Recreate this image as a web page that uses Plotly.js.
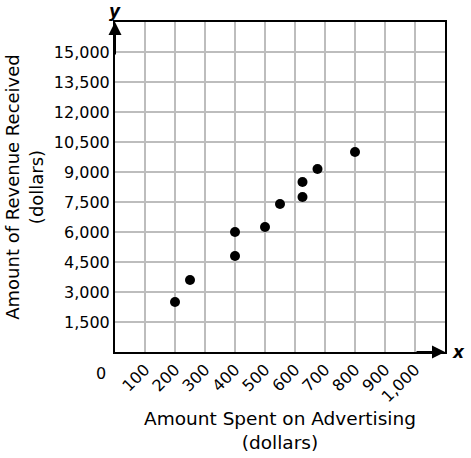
<!DOCTYPE html>
<html><head><meta charset="utf-8">
<script src="https://cdn.plot.ly/plotly-3.0.1.min.js"></script>
<style>body{margin:0;background:#fff}#c{width:471px;height:458px}</style>
</head><body><div id="c"></div>
<script>
var advertising = [200, 250, 400, 400, 500, 550, 625, 625, 675, 800];
var revenue = [2500, 3600, 4800, 6000, 6250, 7400, 7750, 8500, 9150, 10000];
var xTickVals = [100, 200, 300, 400, 500, 600, 700, 800, 900, 1000];
var xTickText = ['100', '200', '300', '400', '500', '600', '700', '800', '900', '1,000'];
var yTickVals = [1500, 3000, 4500, 6000, 7500, 9000, 10500, 12000, 13500, 15000];
var yTickText = ['1,500', '3,000', '4,500', '6,000', '7,500', '9,000', '10,500', '12,000', '13,500', '15,000'];

var font = 'DejaVu Sans, Verdana, sans-serif';
var trace = {
  x: advertising, y: revenue, mode: 'markers', type: 'scatter',
  marker: {color: '#000', size: 10}, hoverinfo: 'skip'
};
var layout = {
  width: 471, height: 458,
  margin: {l: 115, r: 26, t: 22, b: 106},
  paper_bgcolor: '#fff', plot_bgcolor: '#fff',
  showlegend: false,
  font: {family: font, color: '#000', size: 16},
  xaxis: {
    range: [0, 1100], tickvals: xTickVals, ticktext: xTickText, tickangle: -45,
    showgrid: true, gridcolor: '#bdbdbd', gridwidth: 1.5, zeroline: false,
    showline: true, linecolor: '#000', linewidth: 2, mirror: true, ticks: '',
    tickfont: {size: 16, family: font}, automargin: false,
    title: {text: 'Amount Spent on Advertising<br>(dollars)', font: {size: 18.5, family: font}, standoff: 7}
  },
  yaxis: {
    range: [0, 16500], tickvals: yTickVals, ticktext: yTickText,
    showgrid: true, gridcolor: '#bdbdbd', gridwidth: 1.5, zeroline: false,
    showline: true, linecolor: '#000', linewidth: 2, mirror: true, ticks: '',
    tickfont: {size: 16, family: font}, automargin: false,
    title: {text: 'Amount of Revenue Received<br>(dollars)', font: {size: 18, family: font}, standoff: 6}
  },
  annotations: [
    {x: 0, y: 16500, xref: 'x', yref: 'y', ax: 0, ay: 14800, axref: 'x', ayref: 'y',
     showarrow: true, arrowhead: 2, arrowsize: 1.3, arrowwidth: 2, arrowcolor: '#000', text: ''},
    {x: 1100, y: 0, xref: 'x', yref: 'y', ax: 1000, ay: 0, axref: 'x', ayref: 'y',
     showarrow: true, arrowhead: 2, arrowsize: 1.3, arrowwidth: 2, arrowcolor: '#000', text: ''},
    {x: 0, y: 16500, xref: 'x', yref: 'y', text: '<b><i>y</i></b>', showarrow: false,
     xanchor: 'center', yanchor: 'middle', yshift: 11, font: {size: 17, family: font}},
    {x: 1100, y: 0, xref: 'x', yref: 'y', text: '<b><i>x</i></b>', showarrow: false,
     xanchor: 'left', yanchor: 'middle', xshift: 5, font: {size: 17, family: font}},
    {x: 0, y: 0, xref: 'x', yref: 'y', text: '0', showarrow: false,
     xanchor: 'right', yanchor: 'middle', xshift: -7, yshift: -21, font: {size: 16, family: font}}
  ]
};
Plotly.newPlot('c', [trace], layout, {displayModeBar: false, staticPlot: true});
</script></body></html>
